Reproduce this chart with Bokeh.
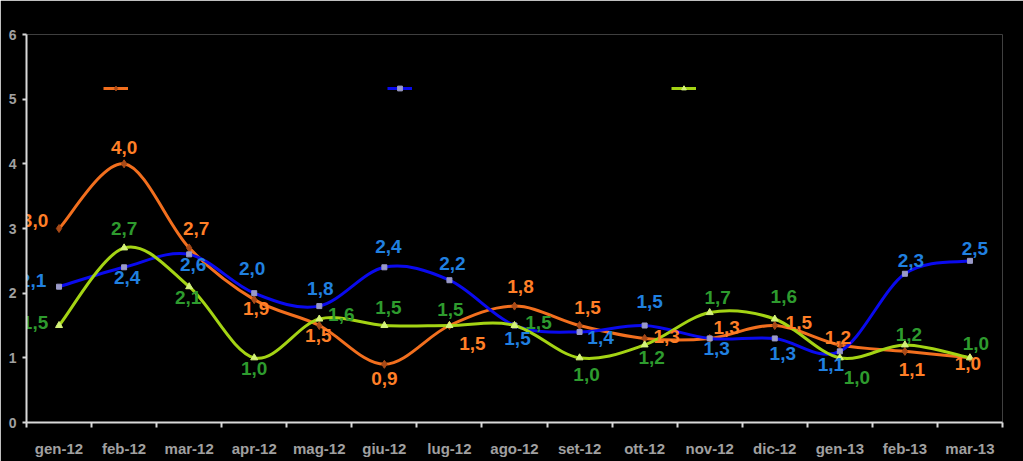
from bokeh.plotting import figure
from bokeh.models import ColumnDataSource, Range1d, FixedTicker, Legend, LegendItem
from bokeh.core.properties import value
from bokeh.embed import file_html
from bokeh.resources import INLINE

# ---- data ----
months = ["gen-12", "feb-12", "mar-12", "apr-12", "mag-12", "giu-12", "lug-12",
          "ago-12", "set-12", "ott-12", "nov-12", "dic-12", "gen-13", "feb-13", "mar-13"]
serie_a = [3.0, 4.0, 2.7, 1.9, 1.5, 0.9, 1.5, 1.8, 1.5, 1.3, 1.3, 1.5, 1.2, 1.1, 1.0]
serie_b = [2.1, 2.4, 2.6, 2.0, 1.8, 2.4, 2.2, 1.5, 1.4, 1.5, 1.3, 1.3, 1.1, 2.3, 2.5]
serie_c = [1.5, 2.7, 2.1, 1.0, 1.6, 1.5, 1.5, 1.5, 1.0, 1.2, 1.7, 1.6, 1.0, 1.2, 1.0]
y_ticks = [0, 1, 2, 3, 4, 5, 6]

# ---- label placement (screen px offsets, style only) ----
off_a = [(-24, -8), (0, -16), (7, -19), (2, 9), (-1, 10), (0, 14), (23, 18), (6, -20),
         (8, -18), (22, -2), (17, -11), (24, -3), (-2, -7), (7, 18), (-2, 6)]
off_b = [(-26, -6), (3, 10), (4, 10), (-2, -25), (1, -18), (4, -21), (3, -17), (3, 13),
         (21, 6), (5, -24), (7, 10), (8, 15), (-9, 13), (6, -13), (5, -12)]
off_c = [(-24, -3), (0, -19), (-1, 11), (0, 11), (22, -5), (4, -18), (1, -16), (24, -3),
         (7, 17), (7, 13), (8, -15), (9, -23), (17, 20), (4, -10), (6, -14)]

xs = list(range(len(months)))

p = figure(width=1023, height=461, x_range=Range1d(-0.5, len(months) - 0.5),
           y_range=Range1d(y_ticks[0], y_ticks[-1]), output_backend="svg",
           toolbar_location=None, background_fill_color="black",
           border_fill_color="black", outline_line_color=None,
           min_border_left=26, min_border_right=21, min_border_top=34,
           min_border_bottom=39)
p.grid.visible = False
p.outline_line_alpha = 0

axis_col = "#D9D9D9"
lab_col = "#A0A0A0"

xa = p.xaxis[0]
xa.ticker = FixedTicker(ticks=xs, minor_ticks=[i - 0.5 for i in range(len(months) + 1)])
xa.major_label_overrides = {i: m for i, m in enumerate(months)}
xa.major_tick_out = 0
xa.major_tick_in = 0
xa.minor_tick_out = 5
xa.minor_tick_in = 0
xa.minor_tick_line_color = axis_col
xa.minor_tick_line_width = 2
xa.axis_line_color = axis_col
xa.axis_line_width = 2
xa.major_label_standoff = 12
xa.major_label_text_color = lab_col
xa.major_label_text_font = "Liberation Sans"
xa.major_label_text_font_style = "bold"
xa.major_label_text_font_size = "15px"

ya = p.yaxis[0]
ya.ticker = FixedTicker(ticks=y_ticks, minor_ticks=[])
ya.major_tick_out = 4
ya.major_tick_in = 0
ya.major_tick_line_color = axis_col
ya.major_tick_line_width = 2
ya.axis_line_color = axis_col
ya.axis_line_width = 2
ya.major_label_standoff = 6
ya.major_label_text_color = lab_col
ya.major_label_text_font = "Liberation Sans"
ya.major_label_text_font_style = "bold"
ya.major_label_text_font_size = "14px"


def smooth_source(vals):
    n = len(vals)
    d = dict(x0=[], y0=[], x1=[], y1=[], cx0=[], cy0=[], cx1=[], cy1=[])
    for i in range(n - 1):
        i0, i3 = max(i - 1, 0), min(i + 2, n - 1)
        d["x0"].append(xs[i]); d["y0"].append(vals[i])
        d["x1"].append(xs[i + 1]); d["y1"].append(vals[i + 1])
        d["cx0"].append(xs[i] + (xs[i + 1] - xs[i0]) / 6)
        d["cy0"].append(vals[i] + (vals[i + 1] - vals[i0]) / 6)
        d["cx1"].append(xs[i + 1] - (xs[i3] - xs[i]) / 6)
        d["cy1"].append(vals[i + 1] - (vals[i3] - vals[i]) / 6)
    return ColumnDataSource(d)


series = [
    (serie_a, off_a, "#F26F1E", "#FF7F27", "diamond", "#A84A18", 8),
    (serie_b, off_b, "#0A0AEE", "#2080E0", "square", "#9A9AC8", 5),
    (serie_c, off_c, "#A4D414", "#2E9B2E", "triangle", "#D4F27A", 7),
]

items = []
label_srcs = []
for vals, offs, lcol, tcol, mk, mcol, msize in series:
    bz = p.bezier(x0="x0", y0="y0", x1="x1", y1="y1", cx0="cx0", cy0="cy0",
                  cx1="cx1", cy1="cy1", source=smooth_source(vals),
                  line_color=lcol, line_width=3)
    sc = p.scatter(xs, vals, marker=mk, size=msize, fill_color=mcol,
                   line_color=mcol)
    items.append(LegendItem(label=" ", renderers=[bz, sc]))
    label_srcs.append((ColumnDataSource(dict(
        x=xs, y=vals, text=[f"{v:.1f}".replace(".", ",") for v in vals],
        dx=[o[0] for o in offs], dy=[o[1] for o in offs])), tcol))

for src, tcol in label_srcs:
    p.text(x="x", y="y", text="text", x_offset="dx", y_offset="dy", source=src,
           text_color=tcol, text_font=value("Liberation Sans"),
           text_font_style="bold", text_font_size="19px",
           text_align="center", text_baseline="middle")

legend = Legend(items=items, orientation="horizontal", location=(77, 328),
                glyph_width=25, glyph_height=12, label_standoff=5,
                label_width=254, spacing=0, padding=0, margin=0,
                background_fill_alpha=0, border_line_alpha=0,
                label_text_color="black", label_text_font_size="10px")
p.add_layout(legend)

open("out.html", "w").write(file_html(p, INLINE))
